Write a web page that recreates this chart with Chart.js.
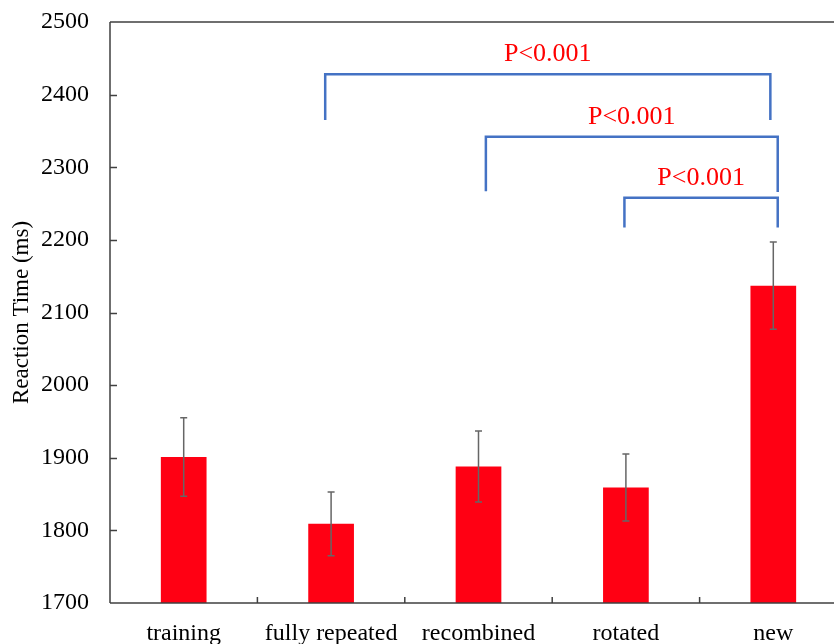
<!DOCTYPE html>
<html>
<head>
<meta charset="utf-8">
<script src="https://cdn.jsdelivr.net/npm/chart.js@4.4.1/dist/chart.umd.min.js"></script>
<style>
  html, body { margin: 0; padding: 0; background: #fff; overflow: hidden; }
  #wrap { width: 847px; height: 644px; }
</style>
</head>
<body>
<div id="wrap"><canvas id="myChart"></canvas></div>
<script>
var labels = ['training', 'fully repeated', 'recombined', 'rotated', 'new'];
var rt = [1901, 1809, 1888, 1859, 2137];
var errs = [54, 44, 49, 46, 60];
var yTicks = [1700, 1800, 1900, 2000, 2100, 2200, 2300, 2400, 2500];

// significance brackets: from / to category (fractional), bar level, leg end levels, text
var brFrom = [0.96, 2.05, 2.99];
var brTo = [3.98, 4.03, 4.03];
var brLevel = [2428, 2342, 2258];
var brLegFrom = [2365, 2267, 2217];
var brLegTo = [2365, 2266, 2217];
var brText = ['P<0.001', 'P<0.001', 'P<0.001'];

var extras = {
    id: 'extras',
    afterDatasetsDraw: function(chart) {
        var c = chart.ctx;
        var x = chart.scales.x, y = chart.scales.y;
        var area = chart.chartArea;
        c.save();

        // error bars
        c.strokeStyle = '#666666';
        c.lineWidth = 1.5;
        for (var i = 0; i < rt.length; i++) {
            var px = x.getPixelForValue(i);
            var top = y.getPixelForValue(rt[i] + errs[i]);
            var bot = y.getPixelForValue(rt[i] - errs[i]);
            c.beginPath();
            c.moveTo(px, top); c.lineTo(px, bot);
            c.moveTo(px - 3.5, top); c.lineTo(px + 3.5, top);
            c.moveTo(px - 3.5, bot); c.lineTo(px + 3.5, bot);
            c.stroke();
        }

        // axes box + inward ticks
        c.strokeStyle = '#404040';
        c.lineWidth = 1.5;
        c.beginPath();
        c.moveTo(area.left, area.top); c.lineTo(area.right, area.top);
        c.moveTo(area.left, area.top); c.lineTo(area.left, area.bottom);
        c.moveTo(area.left, area.bottom); c.lineTo(area.right, area.bottom);
        for (var j = 1; j < yTicks.length - 1; j++) {
            var ty = Math.round(y.getPixelForValue(yTicks[j])) + 0.5;
            c.moveTo(area.left, ty); c.lineTo(area.left + 7, ty);
        }
        for (var k = 0; k < labels.length - 1; k++) {
            var tx = x.getPixelForValue(k + 0.5);
            c.moveTo(tx, area.bottom); c.lineTo(tx, area.bottom - 6);
        }
        c.stroke();

        // brackets
        c.strokeStyle = '#4472C4';
        c.lineWidth = 2.5;
        c.fillStyle = '#FF0000';
        c.font = '26px "Liberation Serif", "Times New Roman", serif';
        c.textAlign = 'center';
        c.textBaseline = 'alphabetic';
        for (var b = 0; b < brFrom.length; b++) {
            var x1 = x.getPixelForValue(brFrom[b]);
            var x2 = x.getPixelForValue(brTo[b]);
            var yl = y.getPixelForValue(brLevel[b]);
            c.beginPath();
            c.moveTo(x1, y.getPixelForValue(brLegFrom[b]));
            c.lineTo(x1, yl);
            c.lineTo(x2, yl);
            c.lineTo(x2, y.getPixelForValue(brLegTo[b]));
            c.stroke();
            c.fillText(brText[b], (x1 + x2) / 2, yl - 13);
        }
        c.restore();
    }
};

var ctx = document.getElementById('myChart');
var barGraph = new Chart(ctx, {
    type: 'bar',
    data: {
        labels: labels,
        datasets: [{
            data: rt,
            backgroundColor: '#FF0013',
            borderWidth: 0,
            barPercentage: 0.31,
            categoryPercentage: 1.0
        }]
    },
    options: {
        responsive: true,
        maintainAspectRatio: false,
        animation: false,
        layout: { padding: { top: 22, right: 0, left: 0, bottom: 0 } },
        plugins: {
            legend: { display: false },
            tooltip: { enabled: false }
        },
        scales: {
            x: {
                grid: { display: false, drawTicks: false },
                border: { display: false },
                ticks: {
                    color: '#000',
                    padding: 16,
                    maxRotation: 0,
                    font: { family: '"Liberation Serif", "Times New Roman", serif', size: 24 }
                },
                afterFit: function(scale) {
                    scale.height = 41;
                    scale.paddingLeft = 0; scale.paddingRight = 0;
                }
            },
            y: {
                min: 1700,
                max: 2500,
                grid: { display: false, drawTicks: false },
                border: { display: false },
                afterBuildTicks: function(scale) {
                    scale.ticks = yTicks.map(function(v) { return { value: v }; });
                },
                ticks: {
                    color: '#000',
                    padding: 21,
                    callback: function(v) { return String(v); },
                    font: { family: '"Liberation Serif", "Times New Roman", serif', size: 24 }
                },
                title: {
                    display: true,
                    text: 'Reaction Time (ms)',
                    color: '#000',
                    padding: { top: 8, bottom: 0 },
                    font: { family: '"Liberation Serif", "Times New Roman", serif', size: 23 }
                },
                afterFit: function(scale) {
                    scale.width = 110;
                    scale.paddingTop = 0; scale.paddingBottom = 0;
                }
            }
        }
    },
    plugins: [extras]
});
</script>
</body>
</html>
